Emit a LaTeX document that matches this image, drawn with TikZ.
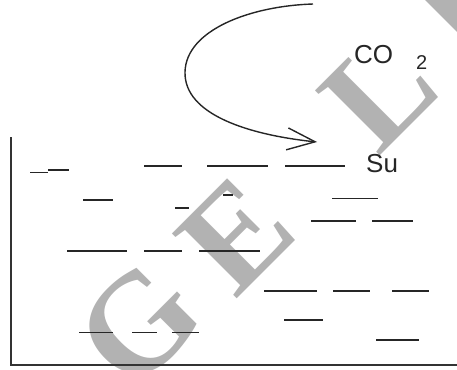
\documentclass[tikz,border=0pt]{standalone}
\usepackage{fontspec}
\setmainfont{Liberation Sans}
\newfontfamily\wmfont{Liberation Serif}
\usetikzlibrary{arrows.meta}
\begin{document}
\begin{tikzpicture}[x=1pt,y=-1pt,
  seg/.style={line width=1.9pt, draw=black!85},
  frameline/.style={line width=2pt, draw=black!80},
  wm/.style={text=black!30, font=\wmfont\bfseries\fontsize{140}{140}\selectfont, rotate=45, inner sep=0pt},
  lbl/.style={font=\fontsize{26}{26}\selectfont, inner sep=0pt, text=black!85},
  sublbl/.style={font=\fontsize{20}{20}\selectfont, inner sep=0pt, text=black!85},
  loop/.style={line width=1.4pt, draw=black!85, -{Straight Barb[length=28pt,width=22pt]}}]
\useasboundingbox (0,0) rectangle (457,369);
% watermark
\node[wm] (wmG) at (139,325) {G};
\node[wm] (wmE) at (236.5,235) {E};
\node[wm] (wmL) at (379,92) {L};
\fill[black!30] (425,0) -- (457,0) -- (457,32) -- cycle;
% frame
\draw[frameline] (10.5,137) -- (10.5,365) -- (457,365);
% dashes
\foreach \xa/\xb/\yy in {30/48/172.5, 48/69/170.3,
  144/182/166, 207/268/166, 285/345/166,
  83/113/200.3, 175/189/208, 223/233/195, 332/378/198.5,
  311/356/221, 372/413/221,
  67/127/251, 144/182/251, 199/260/251,
  264/317/291, 333/370/291, 392/429/291,
  284/323/319.7, 376/419/340.3,
  79/113/332.5, 132/157/332.5, 172/199/332.5}
  \draw[seg] (\xa,\yy) -- (\xb,\yy);
% loop arrow
\coordinate (loopstart) at (313,4);
\coordinate (loopleft) at (185,72);
\coordinate (looptip) at (317,142);
\draw[loop] (loopstart) .. controls (250,6) and (186,30) .. (loopleft)
  .. controls (184,115) and (250,135) .. (looptip);
% labels
\node[lbl, anchor=base west] (co) at (354,63.5) {CO};
\node[sublbl, anchor=base west] (two) at (416,70) {2};
\node[lbl, anchor=base west] (su) at (366,172) {Su};
\end{tikzpicture}
\end{document}
